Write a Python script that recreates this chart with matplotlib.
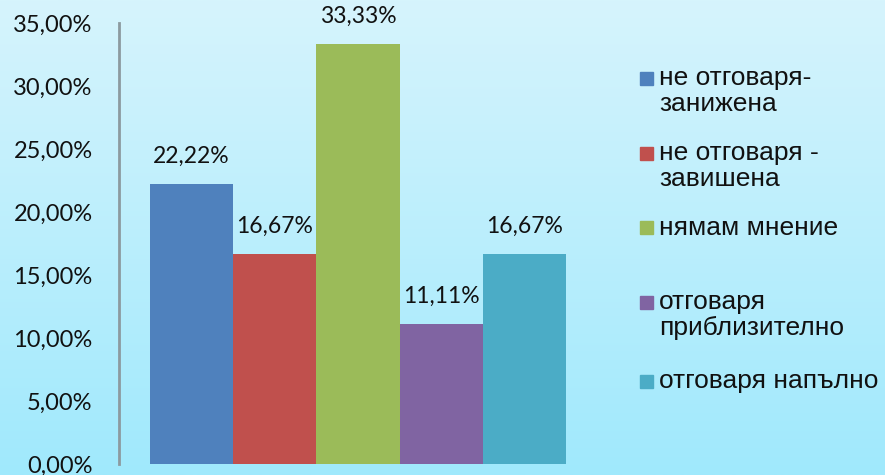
import numpy as np
import matplotlib.pyplot as plt
from matplotlib.patches import Rectangle
from matplotlib.ticker import FuncFormatter

# data
labels = ['не отговаря-\nзанижена', 'не отговаря -\nзавишена', 'нямам мнение',
          'отговаря\nприблизително', 'отговаря напълно']
values = [0.2222, 0.1667, 0.3333, 0.1111, 0.1667]
colors = ['#4f81bd', '#c0504d', '#9bbb59', '#8064a2', '#4bacc6']
yticks = [0, 0.05, 0.10, 0.15, 0.20, 0.25, 0.30, 0.35]

# legend layout (figure pixels from top)
W, H = 885, 475
leg_y = [78, 153, 228, 302, 381]


def pct(v, pos=None):
    return f'{v * 100:.2f}%'.replace('.', ',')


fig = plt.figure(figsize=(W / 100, H / 100), dpi=100)

# gradient background
bg = fig.add_axes([0, 0, 1, 1], zorder=-10)
top = np.array([214, 244, 252]) / 255
bot = np.array([160, 233, 253]) / 255
t = np.linspace(0, 1, 256)[:, None]
grad = (top * (1 - t) + bot * t)[:, None, :]
bg.imshow(grad, aspect='auto', extent=[0, 1, 0, 1])
bg.axis('off')

ax = fig.add_axes([119 / W, 1 - 464 / H, (597 - 119) / W, (464 - 23) / H])
ax.patch.set_alpha(0)
x = np.arange(len(values))
ax.bar(x, values, width=1.0, color=colors)
ax.set_xlim(-0.8725, 4.8725)
ax.set_ylim(0, 0.35)
ax.set_yticks(yticks)
ax.yaxis.set_major_formatter(FuncFormatter(pct))
ax.set_xticks([])
for s in ['top', 'right', 'bottom']:
    ax.spines[s].set_visible(False)
ax.spines['left'].set_color('#8c9a9f')
ax.spines['left'].set_linewidth(2)
ax.tick_params(axis='y', length=0, pad=19, labelsize=17, labelcolor='#111111')
for lab in ax.get_yticklabels():
    lab.set_family('Lato')

for xi, v in zip(x, values):
    ax.annotate(pct(v), (xi, v), xytext=(0, 20), textcoords='offset points',
                ha='center', va='center', fontsize=16.5, family='Lato', color='#111111')

# legend
for lab, c, yc in zip(labels, colors, leg_y):
    fig.patches.append(Rectangle((640 / W, 1 - (yc + 6.5) / H), 13 / W, 13 / H,
                                 transform=fig.transFigure, color=c))
    fig.text(659 / W, 1 - (yc - 12) / H, lab, ha='left', va='top', fontsize=19,
             family='Liberation Sans', linespacing=1.1, color='#111111')

fig.savefig('out.png', dpi=100)
